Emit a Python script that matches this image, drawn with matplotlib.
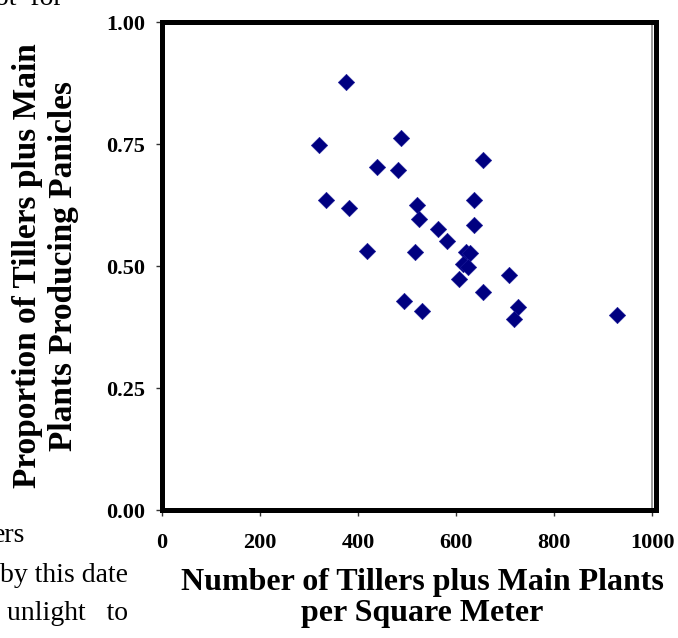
import matplotlib
matplotlib.use('Agg')
import matplotlib.pyplot as plt

# tillers plus main plants per m2 vs. proportion producing panicles
tillers = [376, 321, 488, 655, 439, 481, 335, 637, 382, 520, 524, 637,
           563, 582, 418, 516, 621, 628, 614, 625, 607, 707, 654, 494,
           530, 726, 718, 928]
prop = [0.878, 0.748, 0.762, 0.718, 0.702, 0.697, 0.635, 0.635, 0.618, 0.624,
        0.596, 0.583, 0.576, 0.552, 0.531, 0.529, 0.528, 0.526, 0.504, 0.497,
        0.473, 0.482, 0.447, 0.429, 0.408, 0.417, 0.391, 0.400]

xticks = [0, 200, 400, 600, 800, 1000]
yticks = [0.00, 0.25, 0.50, 0.75, 1.00]

plt.rcParams['font.family'] = ['Liberation Serif', 'DejaVu Serif']

W, H = 678, 638
fig = plt.figure(figsize=(W / 100, H / 100), dpi=100)
ax = fig.add_axes([161.7 / W, 1 - 510 / H, 490.6 / W, 488 / H])

# spine position first: set_position resets the tick labels
for s in ax.spines.values():
    s.set_linewidth(3.6)
    s.set_color('black')
ax.spines['right'].set_position(('outward', 2.7))
ax.axvline(1000, color='#888888', lw=1.2, clip_on=False, zorder=2)

ax.scatter(tillers, prop, marker='D', s=70, color='#000080',
           edgecolors='#1a1a99', linewidths=0.4, zorder=3)

ax.set_xlim(0, 1000)
ax.set_ylim(0, 1)
ax.set_xticks(xticks)
ax.set_xticklabels([str(t) for t in xticks], fontweight='bold', fontsize=16)
ax.set_yticks(yticks)
ax.set_yticklabels(['%.2f' % t for t in yticks], fontweight='bold', fontsize=16)
ax.tick_params(direction='out', length=4.5, width=1, color='#333333')
ax.tick_params(axis='x', pad=12)
ax.tick_params(axis='y', pad=7.5)

ax.set_xlabel('Number of Tillers plus Main Plants\nper Square Meter',
              fontsize=23, fontweight='bold', linespacing=1.1)
ax.xaxis.set_label_coords(0.531, -0.118)
ax.set_ylabel('Proportion of Tillers plus Main\nPlants Producing Panicles',
              fontsize=24, fontweight='bold', linespacing=1.2)
ax.yaxis.set_label_coords(-0.169, 0.5)

# bits of the surrounding page text
for txt, xr, yb in [('ot  for', 63, 5), ('ers', 25, 542),
                    ('by this date', 128, 582), ('unlight   to', 128, 620)]:
    fig.text(xr / W, 1 - yb / H, txt, ha='right', va='baseline', fontsize=20)

fig.savefig('out.png', dpi=100)
